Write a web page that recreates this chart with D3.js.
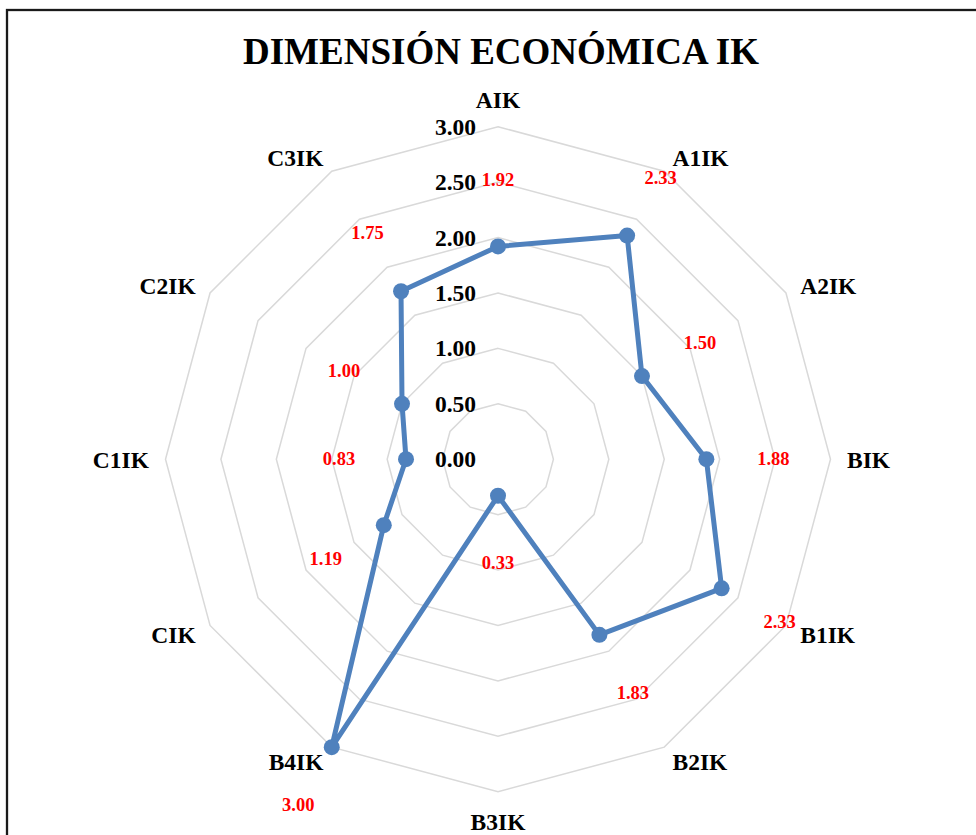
<!DOCTYPE html>
<html lang="es">
<head>
  <meta charset="UTF-8">
  <title>Dimensión Económica IK</title>
  <script src="https://d3js.org/d3.v7.min.js"></script>
  <style>
    body { margin: 0; background: #fff; }
    svg { display: block; font-family: 'Times New Roman', 'Liberation Serif', serif; }
    .ring { fill: none; stroke: #d9d9d9; stroke-width: 1.5px; }
    .tick, .cat { font-size: 23.5px; font-weight: bold; fill: #000; }
    .val { font-size: 18.5px; font-weight: bold; fill: #ff0000; }
  </style>
</head>
<body>
  <svg width="976" height="835"></svg>
  <script>
    const categories = ["AIK", "A1IK", "A2IK", "BIK", "B1IK", "B2IK", "B3IK", "B4IK", "CIK", "C1IK", "C2IK", "C3IK"];
    const values = [1.92, 2.33, 1.50, 1.88, 2.33, 1.83, 0.33, 3.00, 1.19, 0.83, 1.00, 1.75];
    const ticks = [0, 0.5, 1, 1.5, 2, 2.5, 3];
    const title = "DIMENSIÓN ECONÓMICA IK";

    const svg = d3.select("svg");
    const cx = 498, cy = 459.2, R = 332.5;

    // frame of the chart area (runs off the bottom/right of the picture)
    svg.append("rect")
      .attr("x", 7).attr("y", 10)
      .attr("width", 1000).attr("height", 1000)
      .attr("fill", "none")
      .attr("stroke", "#1a1a1a")
      .attr("stroke-width", 2.3);

    svg.append("text")
      .attr("x", 501).attr("y", 64)
      .attr("text-anchor", "middle")
      .style("font-size", "37px")
      .style("font-weight", "bold")
      .text(title);

    const r = d3.scaleLinear().domain([0, 3]).range([0, R]);
    const angle = d3.scalePoint().domain(categories).range([0, 2 * Math.PI * 11 / 12]);

    const g = svg.append("g").attr("transform", `translate(${cx},${cy})`);

    const pt = (cat, rad) => {
      const a = angle(cat);
      return [Math.sin(a) * rad, -Math.cos(a) * rad];
    };

    // grid rings
    g.selectAll("polygon.ring")
      .data(ticks.filter(t => t > 0))
      .join("polygon")
      .attr("class", "ring")
      .attr("points", t => categories.map(c => pt(c, r(t)).join(",")).join(" "));

    // radial tick labels
    g.selectAll("text.tick")
      .data(ticks)
      .join("text")
      .attr("class", "tick")
      .attr("x", -22)
      .attr("y", t => -r(t))
      .attr("dy", "0.34em")
      .attr("text-anchor", "end")
      .text(t => d3.format(".2f")(t));

    // series line
    const line = d3.lineRadial()
      .angle((d, i) => angle(categories[i]))
      .radius(d => r(d))
      .curve(d3.curveLinearClosed);

    g.append("path")
      .datum(values)
      .attr("d", line)
      .attr("fill", "none")
      .attr("stroke", "#4f81bd")
      .attr("stroke-width", 5)
      .attr("stroke-linejoin", "round");

    g.selectAll("circle.marker")
      .data(values)
      .join("circle")
      .attr("class", "marker")
      .attr("cx", (d, i) => pt(categories[i], r(d))[0])
      .attr("cy", (d, i) => pt(categories[i], r(d))[1])
      .attr("r", 8)
      .attr("fill", "#4f81bd");

    // data labels
    g.selectAll("text.val")
      .data(values)
      .join("text")
      .attr("class", "val")
      .attr("x", (d, i) => pt(categories[i], r(d) + 67)[0])
      .attr("y", (d, i) => pt(categories[i], r(d) + 67)[1])
      .attr("dy", "0.34em")
      .attr("text-anchor", "middle")
      .text(d => d3.format(".2f")(d));

    // category labels
    g.selectAll("text.cat")
      .data(categories)
      .join("text")
      .attr("class", "cat")
      .each(function (c) {
        const a = angle(c);
        const s = Math.sin(a), co = Math.cos(a);
        const [x, y] = pt(c, R + 16.5);
        let anchor = "middle", yy = y + 1;
        if (s > 0.01) anchor = "start";
        else if (s < -0.01) anchor = "end";
        else yy = y + (co > 0 ? -10 : 14);
        d3.select(this)
          .attr("x", x).attr("y", yy)
          .attr("dy", "0.34em")
          .attr("text-anchor", anchor)
          .text(c);
      });
  </script>
</body>
</html>
